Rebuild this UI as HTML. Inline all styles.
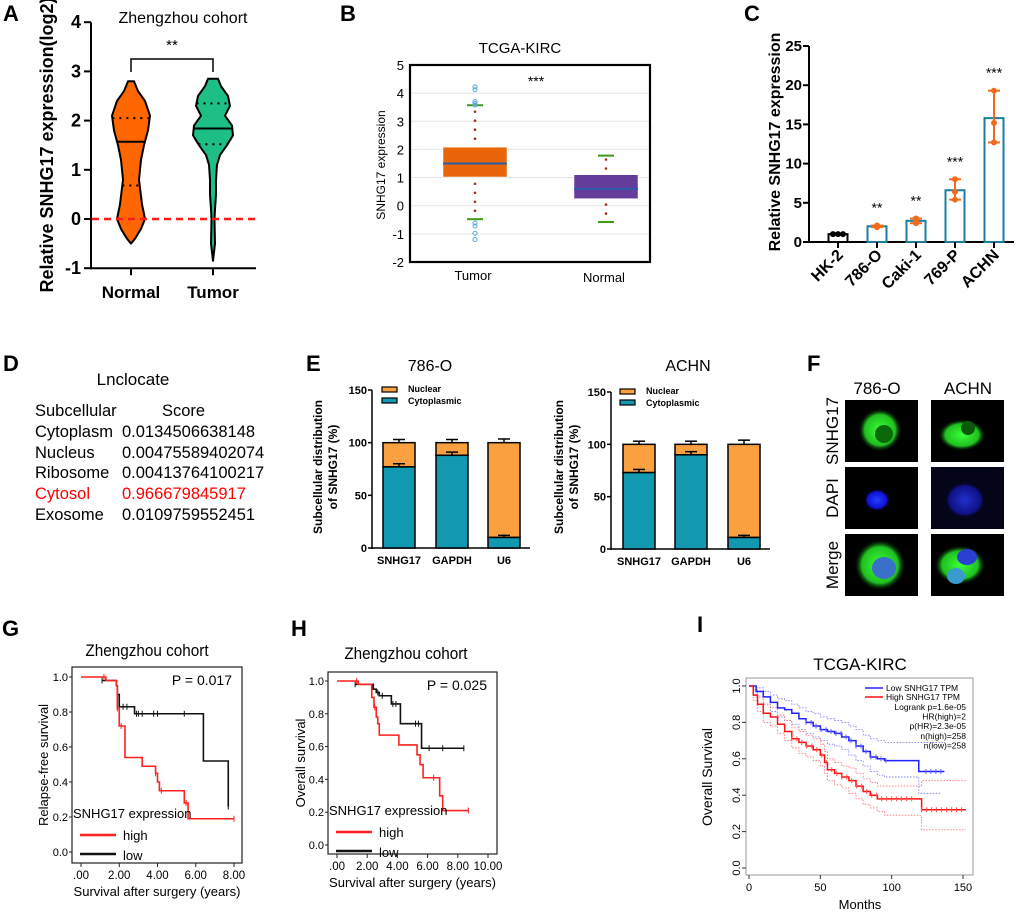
<!DOCTYPE html>
<html><head><meta charset="utf-8">
<style>
html,body{margin:0;padding:0;background:#fff;}
svg{display:block;font-family:"Liberation Sans",Arial,sans-serif;}
</style></head>
<body>
<svg id="fig" width="1020" height="914" viewBox="0 0 1020 914" xmlns="http://www.w3.org/2000/svg">
<g font-weight="bold" font-size="22" fill="#000">
<text x="3" y="21">A</text>
<text x="340" y="21">B</text>
<text x="744" y="21">C</text>
<text x="3" y="371">D</text>
<text x="306" y="371">E</text>
<text x="807" y="371">F</text>
<text x="2" y="636">G</text>
<text x="291" y="636">H</text>
<text x="697" y="632">I</text>
</g>
<g id="pA"></g>
<g id="pB"></g>
<g id="pC"></g>
<g id="pD">
<text x="133" y="385" font-size="17" text-anchor="middle">Lnclocate</text>
<g font-size="16.5">
<text x="35" y="416">Subcellular</text>
<text x="162" y="416">Score</text>
<text x="35" y="437">Cytoplasm</text><text x="122" y="437">0.0134506638148</text>
<text x="35" y="458">Nucleus</text><text x="122" y="458">0.00475589402074</text>
<text x="35" y="478">Ribosome</text><text x="122" y="478">0.00413764100217</text>
<text x="35" y="499" fill="#ff0000">Cytosol</text><text x="122" y="499" fill="#ff0000">0.966679845917</text>
<text x="35" y="520">Exosome</text><text x="122" y="520">0.0109759552451</text>
</g>
</g>
<g id="pE"></g>
<g id="pF">
<defs>
<radialGradient id="gGreen"><stop offset="0" stop-color="#3aff3a"/><stop offset="0.7" stop-color="#20c020"/><stop offset="1" stop-color="#000" stop-opacity="0"/></radialGradient>
<radialGradient id="gBlue"><stop offset="0" stop-color="#2040ff"/><stop offset="0.75" stop-color="#1010d0"/><stop offset="1" stop-color="#000" stop-opacity="0"/></radialGradient>
<radialGradient id="gBlueDim"><stop offset="0" stop-color="#2030d0"/><stop offset="0.8" stop-color="#101080"/><stop offset="1" stop-color="#000010" stop-opacity="0"/></radialGradient>
</defs>
<text x="877" y="394" font-size="17" text-anchor="middle">786-O</text>
<text x="968" y="394" font-size="17" text-anchor="middle">ACHN</text>
<text transform="translate(838,431) rotate(-90)" font-size="17" text-anchor="middle">SNHG17</text>
<text transform="translate(838,498) rotate(-90)" font-size="17" text-anchor="middle">DAPI</text>
<text transform="translate(838,565) rotate(-90)" font-size="17" text-anchor="middle">Merge</text>
<rect x="845" y="400" width="73" height="62" fill="#000"/>
<ellipse cx="880" cy="430" rx="22" ry="22" fill="url(#gGreen)"/><ellipse cx="884" cy="434" rx="9" ry="9" fill="#0a6a0a"/>
<rect x="931" y="400" width="73" height="62" fill="#000"/>
<ellipse cx="962" cy="435" rx="24" ry="16" fill="url(#gGreen)"/><ellipse cx="968" cy="428" rx="7" ry="7" fill="#0a5a0a"/>
<rect x="845" y="467" width="73" height="62" fill="#000"/>
<ellipse cx="877" cy="500" rx="13" ry="11" fill="url(#gBlue)"/>
<rect x="931" y="467" width="73" height="62" fill="#05051a"/>
<ellipse cx="965" cy="500" rx="20" ry="18" fill="url(#gBlueDim)"/>
<rect x="845" y="534" width="73" height="62" fill="#000"/>
<ellipse cx="880" cy="565" rx="26" ry="26" fill="url(#gGreen)"/><ellipse cx="884" cy="568" rx="12" ry="11" fill="#3a70c8"/>
<rect x="931" y="534" width="73" height="62" fill="#000"/>
<ellipse cx="960" cy="565" rx="26" ry="20" fill="url(#gGreen)"/><ellipse cx="967" cy="557" rx="10" ry="8" fill="#2a40d0"/><ellipse cx="956" cy="576" rx="9" ry="8" fill="#3a9ad0"/>
</g>
<g id="pG"></g>
<g id="pH"></g>
<g id="pI"></g>
</svg>
<script>
// ---------- Panel A data ----------
const violinGroups = ["Normal", "Tumor"];
const normalLevels = [-0.5,-0.4,-0.2,0,0.3,0.8,1.2,1.5,1.8,2.1,2.4,2.6,2.8];
const normalWidths = [0,4,10,14,11,8,10,13,17,19,14,7,3];
const tumorLevels = [-0.85,-0.5,0,0.2,0.5,0.8,1.1,1.3,1.5,1.7,1.9,2.1,2.3,2.5,2.7,2.85];
const tumorWidths = [0,2,1.5,2,3,3,4,7,14,20,19,12,17,15,8,5];
const normalQuartiles = [0.68, 1.57, 2.05];
const tumorQuartiles = [1.52, 1.84, 2.35];
const aTicks = [-1,0,1,2,3,4];
// ---------- Panel B data ----------
const bGroups = ["Tumor","Normal"];
const bWhiskLow = [-0.48,-0.58];
const bQ1 = [1.02,0.25];
const bMedian = [1.5,0.6];
const bQ3 = [2.08,1.1];
const bWhiskHigh = [3.57,1.78];
const bOutliers = [[4.22,4.12,3.7,3.63,3.58,-0.62,-0.72,-0.98,-1.2],[]];
const bTicks = [-2,-1,0,1,2,3,4,5];
// ---------- Panel C data ----------
const cLines = ["HK-2","786-O","Caki-1","769-P","ACHN"];
const cMeans = [1,2,2.7,6.6,15.8];
const cPoints = [[1,1,1],[1.9,2.0,2.1],[2.4,2.7,3.0],[5.4,6.4,8.0],[12.7,15.2,19.3]];
const cStars = ["","**","**","***","***"];
const cTicks = [0,5,10,15,20,25];
// ---------- Panel E data ----------
const eGenes = ["SNHG17","GAPDH","U6"];
const e786Cyto = [77,88,10];
const e786CytoErr = [3,3,2];
const e786TotErr = [3,3,3.5];
const eAchnCyto = [73,90,11];
const eAchnCytoErr = [3,3,2];
const eAchnTotErr = [3,3,4];
const eTicks = [0,50,100,150];
// ---------- Panel G data ----------
const gHighT = [0,1.3,1.85,1.9,2.0,2.3,3.2,3.9,4.0,4.1,5.4,5.6];
const gHighS = [1,0.98,0.95,0.82,0.72,0.54,0.49,0.45,0.40,0.35,0.28,0.19];
const gHighEnd = 8.0;
const gHighCens = [1.2,1.9,2.1,3.9,4.2,5.5,8.0];
const gLowT = [1.1,1.85,1.9,2.0,2.8,6.4,7.7];
const gLowS = [0.98,0.95,0.90,0.83,0.79,0.52,0.26];
const gLowEnd = 7.7;
const gLowCens = [1.1,2.2,2.4,2.9,3.0,3.2,3.8,4.0,5.4,7.7];
const gxTicks = [0,2,4,6,8];
const gxLabels = [".00","2.00","4.00","6.00","8.00"];
const kmYTicks = [0,0.2,0.4,0.6,0.8,1.0];
// ---------- Panel H data ----------
const hHighT = [0,1.4,2.3,2.45,2.6,2.7,2.8,4.1,5.3,5.5,5.7,6.8,7.0];
const hHighS = [1,0.98,0.90,0.84,0.78,0.74,0.67,0.61,0.55,0.49,0.41,0.30,0.21];
const hHighEnd = 8.7;
const hHighCens = [1.3,2.5,6.4,8.7];
const hLowT = [1.2,2.4,2.6,2.8,3.6,4.2,5.6];
const hLowS = [0.98,0.95,0.93,0.91,0.86,0.74,0.59];
const hLowEnd = 8.4;
const hLowCens = [1.2,2.7,3.0,3.7,3.9,5.2,5.4,6.1,7.0,8.4];
const hxTicks = [0,2,4,6,8,10];
const hxLabels = [".00","2.00","4.00","6.00","8.00","10.00"];
// ---------- Panel I data ----------
const iLowT = [0,5,10,15,20,25,30,35,40,45,50,55,60,65,70,75,80,85,90,95,119];
const iLowS = [1,0.97,0.94,0.91,0.88,0.87,0.85,0.82,0.80,0.78,0.76,0.75,0.74,0.72,0.70,0.67,0.64,0.61,0.60,0.59,0.53];
const iLowUp = [1,0.99,0.97,0.95,0.93,0.92,0.90,0.88,0.86,0.85,0.83,0.82,0.81,0.80,0.78,0.76,0.73,0.71,0.70,0.69,0.69];
const iLowLo = [1,0.94,0.90,0.86,0.83,0.81,0.79,0.76,0.74,0.72,0.70,0.68,0.67,0.65,0.62,0.59,0.56,0.53,0.51,0.50,0.41];
const iLowEnd = 137;
const iHighT = [0,3,6,10,15,20,25,30,35,40,45,50,53,55,60,65,70,75,80,85,90,95,121];
const iHighS = [1,0.95,0.90,0.85,0.83,0.79,0.75,0.71,0.69,0.67,0.65,0.62,0.58,0.54,0.52,0.50,0.48,0.45,0.42,0.40,0.38,0.38,0.32];
const iHighUp = [1,0.98,0.94,0.90,0.88,0.84,0.81,0.77,0.75,0.73,0.71,0.68,0.64,0.60,0.58,0.56,0.55,0.52,0.49,0.47,0.45,0.45,0.48];
const iHighLo = [1,0.92,0.86,0.80,0.78,0.74,0.70,0.66,0.63,0.61,0.59,0.56,0.52,0.48,0.46,0.44,0.41,0.38,0.35,0.33,0.31,0.29,0.21];
const iHighEnd = 152;
const iXTicks = [0,50,100,150];
const iYTicks = [0,0.2,0.4,0.6,0.8,1.0];

const NS="http://www.w3.org/2000/svg";
function mk(parent,tag,attrs,text){const e=document.createElementNS(NS,tag);for(const k in attrs)e.setAttribute(k,attrs[k]);if(text!==undefined)e.textContent=text;parent.appendChild(e);return e;}

// ================= Panel A =================
(function(){
const g=document.getElementById('pA');
const y=v=>219-v*49.2;
const xs=[131,213];
mk(g,'text',{x:183,y:23,'font-size':16,'text-anchor':'middle'},'Zhengzhou cohort');
const yl=mk(g,'text',{transform:'translate(53,145) rotate(-90)','font-size':18,'font-weight':'bold','text-anchor':'middle'},'Relative SNHG17 expression(log2)');

mk(g,'line',{x1:91,y1:y(4),x2:91,y2:y(-1)+1,stroke:'#000','stroke-width':2});
mk(g,'line',{x1:90,y1:y(-1),x2:256,y2:y(-1),stroke:'#000','stroke-width':2});
aTicks.forEach(t=>{mk(g,'line',{x1:84,y1:y(t),x2:91,y2:y(t),stroke:'#000','stroke-width':2});
 const tl=mk(g,'text',{x:81,y:y(t)+6,'font-size':18,'font-weight':'bold','text-anchor':'end'},String(t));});
const sets=[[normalLevels,normalWidths,normalQuartiles,'#ff6600'],[tumorLevels,tumorWidths,tumorQuartiles,'#1dbf85']];
sets.forEach((s,i)=>{
 const [lv,wd,q,col]=s;const cx=xs[i];
 let pts=[];lv.forEach((v,j)=>pts.push((cx+wd[j])+','+y(v)));
 for(let j=lv.length-1;j>=0;j--)pts.push((cx-wd[j])+','+y(lv[j]));
 const p=mk(g,'polygon',{points:pts.join(' '),fill:col,stroke:'#000','stroke-width':2,'stroke-linejoin':'round'});
 
 const hw=v=>{for(let j=0;j<lv.length-1;j++){if(v>=lv[j]&&v<=lv[j+1]){const f=(v-lv[j])/(lv[j+1]-lv[j]);return wd[j]+f*(wd[j+1]-wd[j]);}}return 0;};
 q.forEach((v,k)=>{const w=hw(v);mk(g,'line',{x1:cx-w,y1:y(v),x2:cx+w,y2:y(v),stroke:'#000','stroke-width':2,'stroke-dasharray':k===1?'':'2,5'});});
 mk(g,'line',{x1:cx,y1:y(-1),x2:cx,y2:y(-1)+7,stroke:'#000','stroke-width':2});
 const xl=mk(g,'text',{x:cx,y:298,'font-size':17,'font-weight':'bold','text-anchor':'middle'},violinGroups[i]);
 
});
const zl=mk(g,'line',{x1:92,y1:y(0),x2:256,y2:y(0),stroke:'#ff1a1a','stroke-width':2.5,'stroke-dasharray':'7,5'});

mk(g,'path',{d:`M131,72 V59 H213 V72`,fill:'none',stroke:'#000','stroke-width':1.5});
mk(g,'text',{x:172,y:50,'font-size':15,'text-anchor':'middle'},'**');
})();

// ================= Panel B =================
(function(){
const g=document.getElementById('pB');
const y=v=>205.7-v*28.14;
const xs=[475,606];
mk(g,'text',{x:520,y:53,'font-size':15,'text-anchor':'middle'},'TCGA-KIRC');
bTicks.forEach(t=>{ if(t>-2&&t<5) mk(g,'line',{x1:410,y1:y(t),x2:650,y2:y(t),stroke:'#e4e4e4','stroke-width':1});
 const tl=mk(g,'text',{x:404,y:y(t)+5,'font-size':13,'text-anchor':'end'},String(t));});
mk(g,'text',{transform:'translate(385,165) rotate(-90)','font-size':12,'text-anchor':'middle'},'SNHG17 expression');
const boxCols=['#e8650a','#643c9a'];
bGroups.forEach((n,i)=>{
 const cx=xs[i];
 for(let v=bWhiskLow[i]+0.3;v<bWhiskHigh[i];v+=0.32){ if(v>bQ1[i]&&v<bQ3[i])continue; mk(g,'circle',{cx:cx,cy:y(v),r:1.3,fill:'#a0301a'});}
 const b=mk(g,'rect',{x:cx-32,y:y(bQ3[i]),width:64,height:y(bQ1[i])-y(bQ3[i]),fill:boxCols[i],stroke:'#fff','stroke-width':0.5});
 
 mk(g,'line',{x1:cx-32,y1:y(bMedian[i]),x2:cx+32,y2:y(bMedian[i]),stroke:'#2a5da8','stroke-width':2});
 [bWhiskLow[i],bWhiskHigh[i]].forEach(v=>mk(g,'line',{x1:cx-8,y1:y(v),x2:cx+8,y2:y(v),stroke:'#3a9a1a','stroke-width':2}));
 bOutliers[i].forEach(v=>mk(g,'circle',{cx:cx,cy:y(v),r:2,fill:'none',stroke:'#5aa8e0','stroke-width':1}));
 const xl=mk(g,'text',{x:cx-2,y:i?282:280,'font-size':13,'text-anchor':'middle'},n);
});
mk(g,'rect',{x:410,y:65,width:240,height:197,fill:'none',stroke:'#000','stroke-width':2.2});
mk(g,'text',{x:536,y:86,'font-size':14,'text-anchor':'middle'},'***');
})();

// ================= Panel C =================
(function(){
const g=document.getElementById('pC');
const y=v=>242-v*7.84;
const xs=[838,877,916,955,994];
mk(g,'text',{transform:'translate(780,142) rotate(-90)','font-size':16,'font-weight':'bold','text-anchor':'middle'},'Relative SNHG17 expression');
mk(g,'line',{x1:809,y1:y(25),x2:809,y2:y(0)+1,stroke:'#000','stroke-width':2});
mk(g,'line',{x1:808,y1:y(0),x2:1014,y2:y(0),stroke:'#000','stroke-width':2});
cTicks.forEach(t=>{mk(g,'line',{x1:803,y1:y(t),x2:809,y2:y(t),stroke:'#000','stroke-width':2});
 const tl=mk(g,'text',{x:802,y:y(t)+5,'font-size':15,'font-weight':'bold','text-anchor':'end'},String(t));});
cLines.forEach((n,i)=>{
 const cx=xs[i];
 const b=mk(g,'rect',{x:cx-9.5,y:y(cMeans[i]),width:19,height:y(0)-y(cMeans[i]),fill:'#fff',stroke:i?'#1a7f9f':'#000','stroke-width':2});
 
 const pts=cPoints[i];const lo=Math.min(...pts),hi=Math.max(...pts);
 const ec=i?'#f26a1b':'#000';
 mk(g,'line',{x1:cx,y1:y(lo),x2:cx,y2:y(hi),stroke:ec,'stroke-width':2});
 [lo,hi].forEach(v=>mk(g,'line',{x1:cx-6,y1:y(v),x2:cx+6,y2:y(v),stroke:ec,'stroke-width':2}));
 pts.forEach((v,k)=>mk(g,'circle',{cx:cx+(k-1)*(i?0:5),cy:y(v),r:3,fill:ec}));
 if(cStars[i]){const s=mk(g,'text',{x:cx,y:y(hi)-13,'font-size':14,'text-anchor':'middle'},cStars[i]);}
 mk(g,'line',{x1:cx,y1:y(0),x2:cx,y2:y(0)+6,stroke:'#000','stroke-width':2});
 const xl=mk(g,'text',{transform:`translate(${cx+6},${256}) rotate(-45)`,'font-size':16,'font-weight':'bold','text-anchor':'end'},n);
 
});
})();

// ================= Panel E =================
function drawE(g,ax,top,zero,xs,xEnd,cyto,cErr,tErr,title,titleX,legX,ylx){
 const y=v=>zero-v*(zero-top)/150;
 mk(g,'text',{x:titleX,y:371,'font-size':16,'text-anchor':'middle'},title);
 const t1=mk(g,'text',{transform:`translate(${ylx},${467}) rotate(-90)`,'font-size':12,'font-weight':'bold','text-anchor':'middle'},'Subcellular distribution');
 mk(g,'text',{transform:`translate(${ylx+15},${467}) rotate(-90)`,'font-size':12,'font-weight':'bold','text-anchor':'middle'},'of SNHG17 (%)');
 mk(g,'line',{x1:ax,y1:top,x2:ax,y2:zero+1,stroke:'#000','stroke-width':1.5});
 mk(g,'line',{x1:ax,y1:zero,x2:xEnd,y2:zero,stroke:'#000','stroke-width':1.5});
 eTicks.forEach(t=>{mk(g,'line',{x1:ax-4,y1:y(t),x2:ax,y2:y(t),stroke:'#000','stroke-width':1.5});
  const tl=mk(g,'text',{x:ax-5,y:y(t)+4,'font-size':11,'font-weight':'bold','text-anchor':'end'},String(t));});
 mk(g,'rect',{x:legX,y:top-3,width:15,height:5,fill:'#faa040',stroke:'#000','stroke-width':1.2});
 mk(g,'rect',{x:legX,y:top+8,width:15,height:5,fill:'#1298b0',stroke:'#000','stroke-width':1.2});
 mk(g,'text',{x:legX+26,y:top+2,'font-size':9,'font-weight':'bold'},'Nuclear');
 mk(g,'text',{x:legX+26,y:top+14,'font-size':9,'font-weight':'bold'},'Cytoplasmic');
 eGenes.forEach((n,i)=>{
  const cx=xs[i],w=32;
  mk(g,'line',{x1:cx,y1:y(100),x2:cx,y2:y(100+tErr[i]),stroke:'#000','stroke-width':1.5});
  mk(g,'line',{x1:cx-6,y1:y(100+tErr[i]),x2:cx+6,y2:y(100+tErr[i]),stroke:'#000','stroke-width':1.5});
  const n1=mk(g,'rect',{x:cx-w/2,y:y(100),width:w,height:y(cyto[i])-y(100),fill:'#faa040',stroke:'#000','stroke-width':1.5});
  
  const c1=mk(g,'rect',{x:cx-w/2,y:y(cyto[i]),width:w,height:zero-y(cyto[i]),fill:'#1298b0',stroke:'#000','stroke-width':1.5});
  
  mk(g,'line',{x1:cx,y1:y(cyto[i]),x2:cx,y2:y(cyto[i]+cErr[i]),stroke:'#000','stroke-width':1.5});
  mk(g,'line',{x1:cx-6,y1:y(cyto[i]+cErr[i]),x2:cx+6,y2:y(cyto[i]+cErr[i]),stroke:'#000','stroke-width':1.5});
  const xl=mk(g,'text',{x:cx,y:zero+16,'font-size':11,'font-weight':'bold','text-anchor':'middle'},n);
 });
}
(function(){const g=document.getElementById('pE');
drawE(g,372,390,548,[399,452,504],530,e786Cyto,e786CytoErr,e786TotErr,'786-O',430,382,322);
drawE(g,611,392,549,[639,691,744],770,eAchnCyto,eAchnCytoErr,eAchnTotErr,'ACHN',688,620,563);})();

// ================= KM helpers =================
function stepPath(T,S,end,x,y){let d=`M${x(T[0])},${y(S[0])}`;for(let i=1;i<T.length;i++){d+=` H${x(T[i])} V${y(S[i])}`;}d+=` H${x(end)}`;return d;}
function survAt(T,S,t){let s=S[0];for(let i=0;i<T.length;i++)if(T[i]<=t)s=S[i];return s;}
function drawCens(g,T,S,C,x,y,col,h){C.forEach(t=>mk(g,'line',{x1:x(t),y1:y(survAt(T,S,t))-h,x2:x(t),y2:y(survAt(T,S,t))+h,stroke:col,'stroke-width':1}));}

function drawKM(g,o){
 const x=v=>o.x0+v*o.xs, y=v=>o.y0-v*(o.y0-o.y1);
 mk(g,'text',{x:o.tx,y:o.ty,'font-size':17,'text-anchor':'middle','transform':`scale(0.9,1) translate(${o.tx*0.111},0)`},'Zhengzhou cohort');
 mk(g,'rect',{x:o.fl,y:o.ft,width:o.fr-o.fl,height:o.fb-o.ft,fill:'none',stroke:'#222','stroke-width':1.2});
 kmYTicks.forEach(t=>{mk(g,'line',{x1:o.fl-3,y1:y(t),x2:o.fl,y2:y(t),stroke:'#222'});
  mk(g,'text',{x:o.fl-4,y:y(t)+4,'font-size':11,'text-anchor':'end'},t.toFixed(1));});
 o.xt.forEach((t,i)=>{mk(g,'line',{x1:x(t),y1:o.fb,x2:x(t),y2:o.fb+4,stroke:'#222'});
  mk(g,'text',{x:x(t),y:o.fb+16,'font-size':11.5,'text-anchor':'middle'},o.xl[i]);});
 mk(g,'text',{x:(o.fl+o.fr)/2,y:o.fb+33,'font-size':13,'text-anchor':'middle'},'Survival after surgery (years)');
 mk(g,'text',{transform:`translate(${o.ylx},${(o.ft+o.fb)/2}) rotate(-90)`,'font-size':13,'text-anchor':'middle'},o.ylab);
 mk(g,'text',{x:o.fr-10,y:o.py,'font-size':14,'text-anchor':'end'},o.p);
 const lp=mk(g,'path',{d:stepPath(o.lT,o.lS,o.lE,x,y),fill:'none',stroke:'#111','stroke-width':1.6});
 drawCens(g,o.lT,o.lS,o.lC,x,y,'#111',3);
 const hp=mk(g,'path',{d:stepPath(o.hT,o.hS,o.hE,x,y),fill:'none',stroke:'#ff2020','stroke-width':1.6});
 drawCens(g,o.hT,o.hS,o.hC,x,y,'#ff2020',3);
 mk(g,'text',{x:o.fl+1,y:o.ly,'font-size':13},'SNHG17 expression');
 mk(g,'line',{x1:o.fl+8,y1:o.ly+17,x2:o.fl+44,y2:o.ly+17,stroke:'#ff2020','stroke-width':2.5});
 mk(g,'text',{x:o.fl+51,y:o.ly+22,'font-size':13},'high');
 mk(g,'line',{x1:o.fl+8,y1:o.ly+36,x2:o.fl+44,y2:o.ly+36,stroke:'#111','stroke-width':2.5});
 mk(g,'text',{x:o.fl+51,y:o.ly+42,'font-size':13},'low');
}
drawKM(document.getElementById('pG'),{x0:81,xs:(234-81)/8,y0:852,y1:677,fl:72,fr:242,ft:667,fb:863,tx:147,ty:656,xt:gxTicks,xl:gxLabels,ylx:48,ylab:'Relapse-free survival',p:'P = 0.017',py:685,
 hT:gHighT,hS:gHighS,hE:gHighEnd,hC:gHighCens,lT:gLowT,lS:gLowS,lE:gLowEnd,lC:gLowCens,ly:818});
drawKM(document.getElementById('pH'),{x0:337,xs:(488-337)/10,y0:845,y1:681,fl:328,fr:497,ft:672,fb:854,tx:406,ty:659,xt:hxTicks,xl:hxLabels,ylx:305,ylab:'Overall survival',p:'P = 0.025',py:690,
 hT:hHighT,hS:hHighS,hE:hHighEnd,hC:hHighCens,lT:hLowT,lS:hLowS,lE:hLowEnd,lC:hLowCens,ly:815});

// ================= Panel I =================
(function(){
const g=document.getElementById('pI');
const x=v=>749+v*(963-749)/150, y=v=>868-v*(868-686);
mk(g,'text',{x:860,y:670,'font-size':17,'text-anchor':'middle'},'TCGA-KIRC');
mk(g,'rect',{x:746,y:678,width:227,height:197,fill:'none',stroke:'#999','stroke-width':1});
iXTicks.forEach(t=>{mk(g,'line',{x1:x(t),y1:875,x2:x(t),y2:879,stroke:'#333'});
 mk(g,'text',{x:x(t),y:891,'font-size':11,'text-anchor':'middle'},String(t));});
iYTicks.forEach(t=>{mk(g,'line',{x1:742,y1:y(t),x2:746,y2:y(t),stroke:'#333'});
 mk(g,'text',{transform:`translate(740,${y(t)}) rotate(-90)`,'font-size':11,'text-anchor':'middle'},t.toFixed(1));});
mk(g,'text',{x:860,y:909,'font-size':13,'text-anchor':'middle'},'Months');
mk(g,'text',{transform:'translate(712,777) rotate(-90)','font-size':14,'text-anchor':'middle'},'Overall Survival');
[[iLowT,iLowUp,iLowEnd,'#8080ff'],[iLowT,iLowLo,iLowEnd-2,'#8080ff'],[iHighT,iHighUp,iHighEnd,'#ff7070'],[iHighT,iHighLo,iHighEnd,'#ff7070']].forEach(c=>{
 mk(g,'path',{d:stepPath(c[0],c[1],c[2],x,y),fill:'none',stroke:c[3],'stroke-width':0.9,'stroke-dasharray':'1.5,1.5'});});
const lp=mk(g,'path',{d:stepPath(iLowT,iLowS,iLowEnd,x,y),fill:'none',stroke:'#2020ff','stroke-width':1.5});
const hp=mk(g,'path',{d:stepPath(iHighT,iHighS,iHighEnd,x,y),fill:'none',stroke:'#ff1010','stroke-width':1.5});
for(let t=40;t<=137;t+=3.5){ if(t>96&&t<122)continue; mk(g,'line',{x1:x(t),y1:y(survAt(iLowT,iLowS,t))-2.5,x2:x(t),y2:y(survAt(iLowT,iLowS,t))+2.5,stroke:'#6060ff','stroke-width':1});}
for(let t=30;t<=152;t+=3.5){ if(t>115&&t<121)continue; mk(g,'line',{x1:x(t),y1:y(survAt(iHighT,iHighS,t))-2.5,x2:x(t),y2:y(survAt(iHighT,iHighS,t))+2.5,stroke:'#ff5050','stroke-width':1});}
mk(g,'line',{x1:865,y1:688,x2:883,y2:688,stroke:'#2020ff','stroke-width':1.5});
mk(g,'line',{x1:865,y1:697,x2:883,y2:697,stroke:'#ff1010','stroke-width':1.5});
mk(g,'text',{x:886,y:691,'font-size':8.5},'Low SNHG17 TPM');
mk(g,'text',{x:886,y:700,'font-size':8.5},'High SNHG17 TPM');
const stats=['Logrank p=1.6e-05','HR(high)=2','p(HR)=2.3e-05','n(high)=258','n(low)=258'];
stats.forEach((s,i)=>{mk(g,'text',{x:966,y:710+i*9.6,'font-size':8.5,'text-anchor':'end'},s);});
})();
</script>
</body></html>
